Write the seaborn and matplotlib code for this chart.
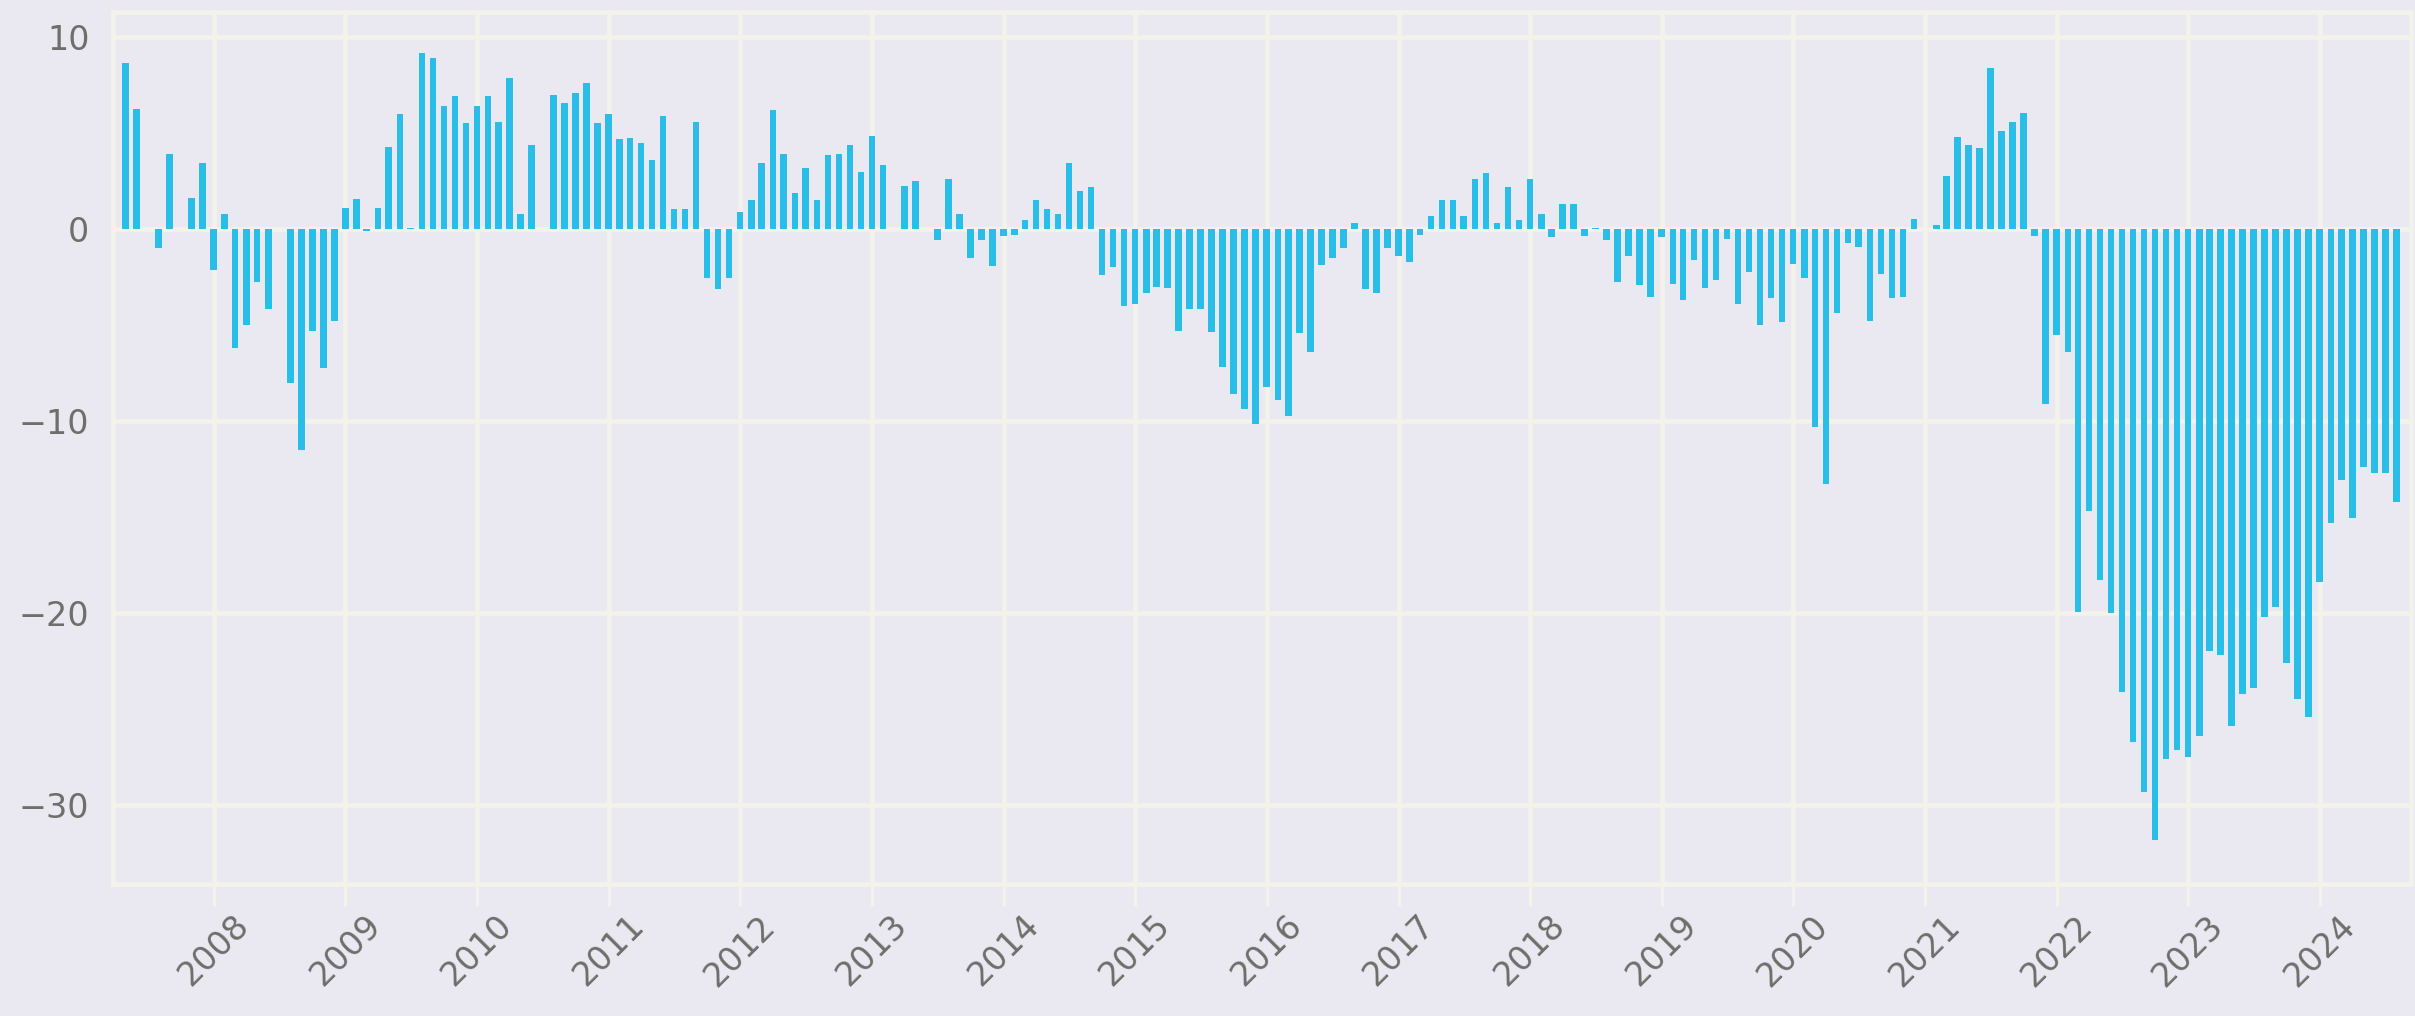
import numpy as np
import pandas as pd
import matplotlib
matplotlib.use("Agg")
import matplotlib.pyplot as plt
import matplotlib.dates as mdates
import matplotlib.ticker as mticker
import seaborn as sns

# ---- data: monthly values, first bar = May 2007 ----
start_month = "2007-05-01"
values_2007 = [8.65, 6.25, 0.0, -1.0, 3.9, 0.0, 1.6, 3.45]
values_2008 = [-2.15, 0.75, -6.2, -5.0, -2.75, -4.2, 0.0, -8.05, -11.5, -5.3, -7.25, -4.8]
values_2009 = [1.1, 1.55, -0.1, 1.1, 4.25, 5.95, 0.05, 9.15, 8.9, 6.4, 6.9, 5.5]
values_2010 = [6.4, 6.9, 5.55, 7.85, 0.75, 4.35, 0.0, 6.95, 6.55, 7.05, 7.6, 5.5]
values_2011 = [5.95, 4.65, 4.75, 4.45, 3.6, 5.85, 1.05, 1.05, 5.55, -2.55, -3.15, -2.55]
values_2012 = [0.85, 1.5, 3.4, 6.2, 3.9, 1.85, 3.15, 1.5, 3.85, 3.9, 4.35, 2.95]
values_2013 = [4.85, 3.3, 0.0, 2.25, 2.5, 0.0, -0.6, 2.6, 0.75, -1.5, -0.6, -1.95]
values_2014 = [-0.35, -0.3, 0.45, 1.5, 1.05, 0.75, 3.45, 1.95, 2.15, -2.4, -2.0, -4.0]
values_2015 = [-3.9, -3.35, -3.05, -3.1, -5.3, -4.15, -4.15, -5.35, -7.2, -8.6, -9.4, -10.15]
values_2016 = [-8.25, -8.9, -9.75, -5.4, -6.4, -1.9, -1.5, -1.0, 0.3, -3.15, -3.35, -1.0]
values_2017 = [-1.4, -1.75, -0.3, 0.65, 1.5, 1.5, 0.65, 2.6, 2.9, 0.3, 2.2, 0.45]
values_2018 = [2.6, 0.75, -0.45, 1.3, 1.3, -0.4, 0.05, -0.6, -2.75, -1.4, -2.95, -3.55]
values_2019 = [-0.45, -2.85, -3.7, -1.65, -3.1, -2.65, -0.55, -3.9, -2.25, -5.0, -3.6, -4.85]
values_2020 = [-1.85, -2.55, -10.3, -13.3, -4.4, -0.75, -0.95, -4.8, -2.35, -3.6, -3.55, 0.5]
values_2021 = [0.0, 0.2, 2.75, 4.8, 4.35, 4.2, 8.35, 5.1, 5.55, 6.05, -0.4, -9.1]
values_2022 = [-5.55, -6.4, -19.95, -14.7, -18.3, -20.0, -24.1, -26.7, -29.3, -31.8, -27.6, -27.15]
values_2023 = [-27.5, -26.4, -22.0, -22.2, -25.9, -24.2, -23.9, -20.2, -19.7, -22.6, -24.5, -25.4]
values_2024 = [-18.4, -15.3, -13.05, -15.05, -12.4, -12.7, -12.7, -14.2]

values = (values_2007 + values_2008 + values_2009 + values_2010 + values_2011 +
          values_2012 + values_2013 + values_2014 + values_2015 + values_2016 +
          values_2017 + values_2018 + values_2019 + values_2020 + values_2021 +
          values_2022 + values_2023 + values_2024)

dates = pd.date_range(start_month, periods=len(values), freq="MS")
df = pd.DataFrame({"x": mdates.date2num(dates.to_pydatetime()), "value": values})

# ---- style ----
BG = "#EAE9F2"
GRID = "#F3F3EB"
BAR = "#29BEE8"
TXT = "#6E6E6A"

sns.set_theme(style="darkgrid", rc={
    "axes.facecolor": BG,
    "figure.facecolor": BG,
    "grid.color": GRID,
    "grid.linewidth": 3.4,
    "axes.edgecolor": GRID,
    "axes.linewidth": 3.4,
})
plt.rcParams["font.family"] = ["DejaVu Sans"]

fig = plt.figure(figsize=(24.15, 10.16), dpi=100)
ax = fig.add_axes([0.0468, 0.130, 0.9515, 0.8585])

sns.barplot(data=df, x="x", y="value", native_scale=True, width=0.65,
            color=BAR, saturation=1, linewidth=0, errorbar=None, ax=ax)

ax.set_axisbelow(True)
ax.set_xlim(mdates.date2num(pd.Timestamp("2007-03-28")),
            mdates.date2num(pd.Timestamp("2024-09-10")))
ax.set_ylim(-34.1, 11.3)

ax.xaxis.set_major_locator(mdates.YearLocator(1))
ax.xaxis.set_major_formatter(mdates.DateFormatter("%Y"))
ax.yaxis.set_major_locator(mticker.MultipleLocator(10))

ax.set_xlabel("")
ax.set_ylabel("")
for s in ax.spines.values():
    s.set_visible(True)
    s.set_color(GRID)
    s.set_linewidth(3.4)

ax.tick_params(axis="x", which="major", length=16, width=2.4, color=GRID,
               labelsize=24, labelcolor=TXT, pad=2, rotation=45, bottom=True)
ax.tick_params(axis="y", which="major", length=0, labelsize=24,
               labelcolor=TXT, pad=17)
ax.grid(True, color=GRID, linewidth=3.4)

fig.savefig("out.png", dpi=100, facecolor=BG)
